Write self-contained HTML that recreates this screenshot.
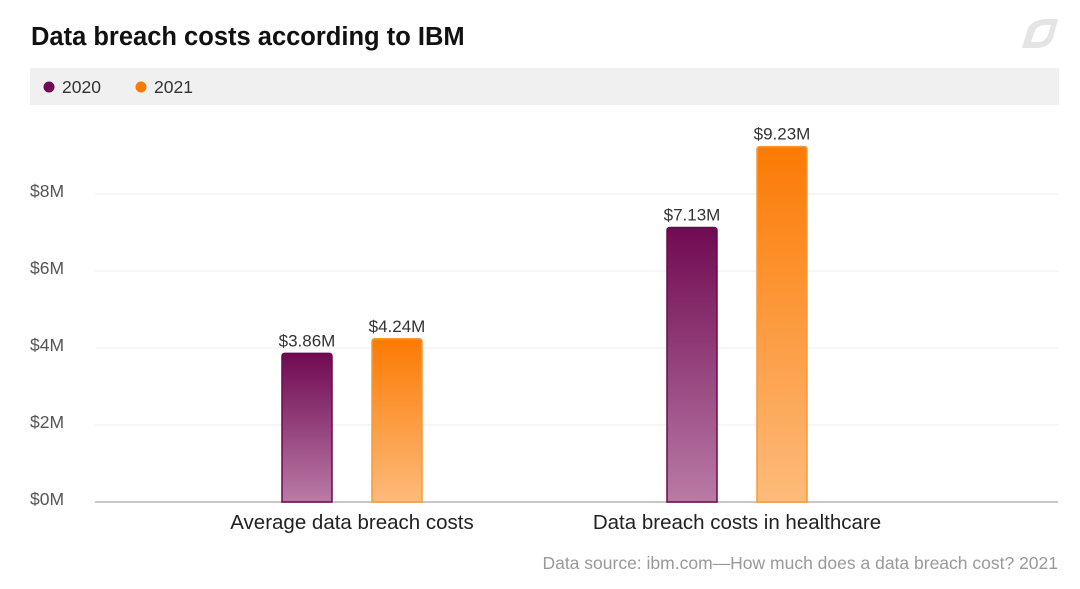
<!DOCTYPE html>
<html><head><meta charset="utf-8"><style>
body{margin:0;background:#fff;font-family:"Liberation Sans",sans-serif;}
</style></head><body>
<svg width="1080" height="584" viewBox="0 0 1080 584" id="c">
<defs>
<linearGradient id="g0" x1="0" y1="0" x2="0" y2="1"><stop offset="0" stop-color="#700a52"/><stop offset="1" stop-color="#b97ba6"/></linearGradient>
<linearGradient id="g1" x1="0" y1="0" x2="0" y2="1"><stop offset="0" stop-color="#fb7a03"/><stop offset="1" stop-color="#fdbb7c"/></linearGradient>
</defs>
<text x="31" y="45" font-size="25.5" font-weight="bold" fill="#111">Data breach costs according to IBM</text>
<path d="M1022 48 L1028 28 Q1033 20 1045 19 L1058 19 L1053 38 Q1049 47 1038 48 Z M1031 42 L1039 42 Q1046 41 1048 35 L1051 25 L1044 25 Q1036 26 1034 33 Z" fill="#e4e4e4" fill-rule="evenodd"/>
<rect x="30" y="68" width="1029" height="37" fill="#f0f0f0"/>
<g><circle cx="49" cy="87" r="5.5" fill="#700a52"/><text x="62" y="93" font-size="17.5" fill="#333">2020</text></g>
<g><circle cx="141" cy="87" r="5.5" fill="#fb7a03"/><text x="154" y="93" font-size="17.5" fill="#333">2021</text></g>
<g id="grid"></g>
<g id="bars"></g>
<text x="1058" y="569" font-size="17.5" fill="#999" text-anchor="end">Data source: ibm.com—How much does a data breach cost? 2021</text>
</svg>
<script>
const categories=["Average data breach costs","Data breach costs in healthcare"];
const series2020=[3.86,7.13];
const series2021=[4.24,9.23];
const labels2020=["$3.86M","$7.13M"];
const labels2021=["$4.24M","$9.23M"];
const ticks=[0,2,4,6,8];
const tickLabels=["$0M","$2M","$4M","$6M","$8M"];
const NS="http://www.w3.org/2000/svg";
const y=v=>502-v*38.5;
const gc=i=>352+i*385;
function mk(t,a,p,txt){const e=document.createElementNS(NS,t);for(const k in a)e.setAttribute(k,a[k]);if(txt!==undefined)e.textContent=txt;p.appendChild(e);return e;}
const grid=document.getElementById('grid'),bars=document.getElementById('bars');
ticks.forEach((t,i)=>{
 if(t>0){const l=mk('line',{x1:95,x2:1058,y1:y(t),y2:y(t),stroke:'#ececec','stroke-width':1},grid);
 
 }
 const tx=mk('text',{x:30,y:y(t)+3,'font-size':17.5,fill:'#555'},grid,tickLabels[i]);
 
 
});
const base=mk('line',{x1:95,x2:1058,y1:502,y2:502,stroke:'#c8c8c8','stroke-width':2},grid);


categories.forEach((c,i)=>{
 [[series2020,labels2020,'url(#g0)','#6a0a4d',-45],[series2021,labels2021,'url(#g1)','#f7993a',45]].forEach(([s,lb,f,st,off],j)=>{
  const cx=gc(i)+off,top=y(s[i]);
  const r=mk('path',{d:`M${cx-25} 502 L${cx-25} ${top+3} Q${cx-25} ${top} ${cx-22} ${top} L${cx+22} ${top} Q${cx+25} ${top} ${cx+25} ${top+3} L${cx+25} 502 Z`,fill:f,stroke:st,'stroke-width':1.5},bars);
  
  
  const t=mk('text',{x:cx,y:top-7,'font-size':17,fill:'#333','text-anchor':'middle'},bars,lb[i]);
  
  
 });
 const xl=mk('text',{x:gc(i),y:529,'font-size':20.5,fill:'#222','text-anchor':'middle'},bars,c);
 
 
});
</script>
</body></html>
